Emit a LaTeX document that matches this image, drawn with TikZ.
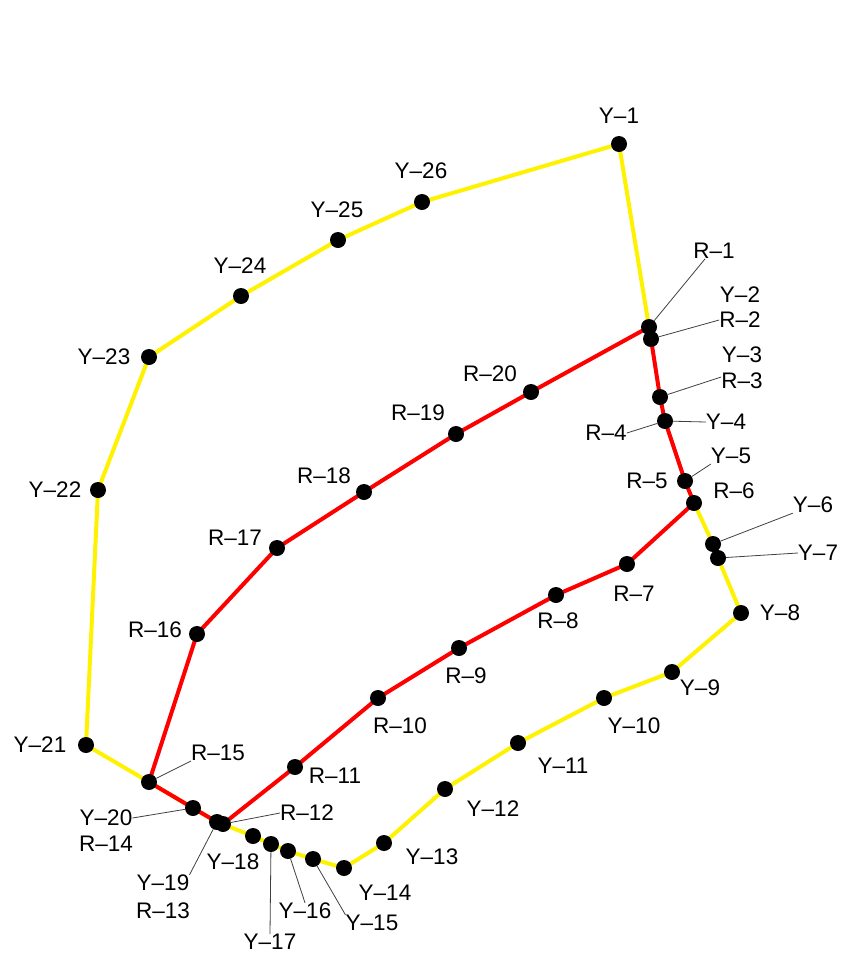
\documentclass[tikz,border=0pt]{standalone}
\usepackage{fontspec}
\newfontfamily\lblfont{Liberation Sans}
\usetikzlibrary{backgrounds}
\newcommand{\dsh}{\textendash}

\begin{document}
\begin{tikzpicture}[
  x=1pt, y=-1pt,
  pt/.style={circle, fill=black, inner sep=0pt, minimum size=16pt},
  lbl/.style={inner sep=0pt, font=\lblfont\fontsize{22.5}{26}\selectfont},
  yline/.style={draw=yellow, line width=4pt, line join=round},
  rline/.style={draw=red, line width=4pt, line join=round},
  lead/.style={draw=black!75, line width=0.8pt}
]
\useasboundingbox (0,0) rectangle (844,954);

% Points
\foreach \n/\x/\y in {y1/619/144, r1/649/327, r2/651/339, r3/660/397, r4/665/421,
    r5/685/481, r6/694/503, y6/713/544, y7/718/558, y8/741/613, y9/672/672,
    y10/604/698, y11/518/743, y12/445/789, y13/384/843, y14/344/868, y15/313/859,
    y16/288/851, y17/271/844, y18/253/836, r13/217/822, r12/223/824, r14/193/808,
    r15/149/782, y21/86/745, y22/98/490, y23/149/357, y24/241/296, y25/338/240,
    y26/422/202, r20/531/392, r19/456/434, r18/364/492, r17/277/548, r16/197/634,
    r11/295/767, r10/378/698, r9/459/648, r8/556/595, r7/627/564}
  \node[pt] (\n) at (\x,\y) {};

% Labels
\foreach \n/\x/\y/\t in {y1/619/116/Y\dsh1, r1/714/251/R\dsh1, y2/740/295/Y\dsh2, r2/740/320/R\dsh2,
    y3/742/355/Y\dsh3, r3/742/381/R\dsh3, y4/726/422/Y\dsh4, r4/606/433/R\dsh4, y5/731/456/Y\dsh5,
    r5/647/481/R\dsh5, r6/734/491/R\dsh6, y6/813/505/Y\dsh6, y7/818/553/Y\dsh7, y8/780/613/Y\dsh8,
    y9/700/688/Y\dsh9, y10/634/726/Y\dsh10, y11/563/766/Y\dsh11, y12/493/809/Y\dsh12,
    y13/432/857/Y\dsh13, y14/385/893/Y\dsh14, y15/372/923/Y\dsh15, y16/305/911/Y\dsh16,
    y17/270/942/Y\dsh17, y18/233/862/Y\dsh18, y19/163/883/Y\dsh19, r13/163/911/R\dsh13,
    r12/307/813/R\dsh12, y20/106/818/Y\dsh20, r14/106/844/R\dsh14, r15/218/753/R\dsh15,
    y21/40/745/Y\dsh21, y22/55/490/Y\dsh22, y23/104/357/Y\dsh23, y24/240/266/Y\dsh24,
    y25/337/210/Y\dsh25, y26/421/171/Y\dsh26, r20/490/374/R\dsh20, r19/418/413/R\dsh19,
    r18/324/476/R\dsh18, r17/235/538/R\dsh17, r16/155/630/R\dsh16, r11/335/776/R\dsh11,
    r10/400/726/R\dsh10, r9/466/676/R\dsh9, r8/558/621/R\dsh8, r7/634/594/R\dsh7}
  \node[lbl] (l\n) at (\x,\y) {\t};

% Leaders
\draw[lead] (r1) -- ([xshift=-9pt]lr1.south);
\draw[lead] (r2) -- (lr2.west);
\draw[lead] (r3) -- ([yshift=4pt]lr3.west);
\draw[lead] (r4) -- (ly4.west);
\draw[lead] (r4) -- (lr4.east);
\draw[lead] (r5) -- (ly5.south west);
\draw[lead] (y6) -- (ly6.south west);
\draw[lead] (y7) -- (ly7.west);
\draw[lead] (y15) -- (ly15.north west);
\draw[lead] (y16) -- (ly16.north);
\draw[lead] (y17) -- (ly17.north);
\draw[lead] (r13) -- (ly19.north east);
\draw[lead] (r12) -- (lr12.west);
\draw[lead] (r14) -- (ly20.east);
\draw[lead] (r15) -- (lr15.south west);

% Routes
\begin{scope}[on background layer]
  \draw[yline] (r1.center) -- (y1.center) -- (y26.center) -- (y25.center) -- (y24.center)
    -- (y23.center) -- (y22.center) -- (y21.center) -- (r15.center) -- (r14.center)
    -- (r13.center) -- (y18.center) -- (y17.center) -- (y16.center) -- (y15.center)
    -- (y14.center) -- (y13.center) -- (y12.center) -- (y11.center) -- (y10.center)
    -- (y9.center) -- (y8.center) -- (y7.center) -- (y6.center) -- (r6.center);
  \draw[rline] (r1.center) -- (r20.center) -- (r19.center) -- (r18.center) -- (r17.center)
    -- (r16.center) -- (r15.center) -- (r14.center) -- (r13.center) -- (r12.center)
    -- (r11.center) -- (r10.center) -- (r9.center) -- (r8.center) -- (r7.center)
    -- (r6.center) -- (r5.center) -- (r4.center) -- (r3.center) -- (r2.center)
    -- (r1.center);
\end{scope}

\end{tikzpicture}
\end{document}
